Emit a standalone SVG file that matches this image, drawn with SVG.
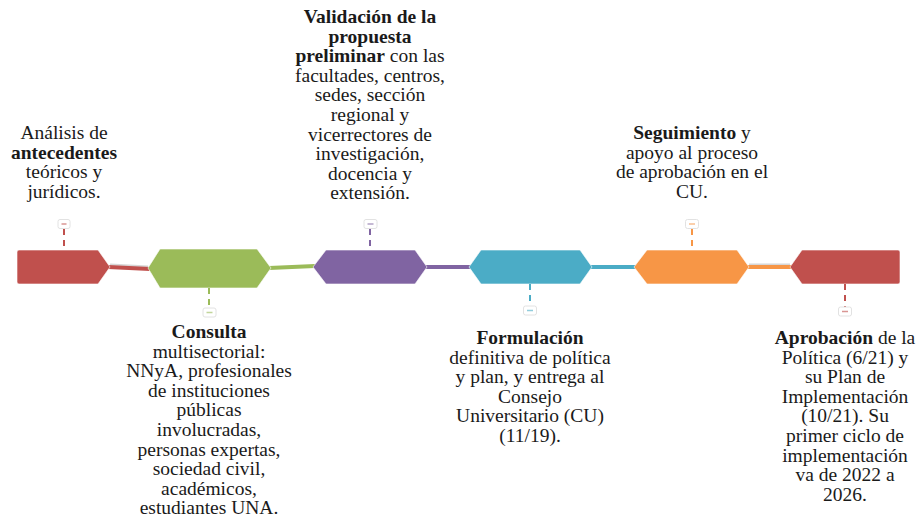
<svg xmlns="http://www.w3.org/2000/svg" width="924" height="519" viewBox="0 0 924 519">
<style>
  text { font-family: "Liberation Serif", "Times New Roman", serif; font-size: 19.5px; fill: #1a1a1a; text-anchor: middle; }
  .b { font-weight: bold; }
  .shape { stroke: #ffffff; stroke-opacity: 0.6; stroke-width: 1; }
  .conn { fill: none; stroke-width: 4; stroke-linecap: butt; }
  .shadow { fill: none; stroke: #bdbdbd; stroke-width: 4; opacity: 0.6; }
  .stem { fill: none; stroke-width: 2; stroke-dasharray: 6 5; }
  .mk { fill: #ffffff; stroke: #e2e2e2; stroke-width: 1; }
  .mkl { stroke-width: 1.5; opacity: 0.6; }
</style>
<rect width="924" height="519" fill="#ffffff"/>
<g id="connectors">
  <line class="shadow" x1="110" y1="265.5" x2="148" y2="267.5"/>
  <line class="conn" stroke="#C0504D" x1="108" y1="267" x2="150" y2="269"/>
  <line class="conn" stroke="#9BBB59" x1="269" y1="268" x2="315" y2="266"/>
  <line class="conn" stroke="#8064A2" x1="425" y1="267" x2="471" y2="267"/>
  <line class="conn" stroke="#4BACC6" x1="590" y1="267" x2="636" y2="267"/>
  <line class="shadow" x1="749" y1="265.5" x2="790" y2="265.5"/>
  <line class="conn" stroke="#F79646" x1="747" y1="267" x2="792" y2="267"/>
</g>
<g id="node1">
  <path class="shape" fill="#C0504D" d="M19,250 H98 L110,267 L98,284 H19 Q17,284 17,282 V252 Q17,250 19,250 Z"/>
  <line class="stem" stroke="#C0504D" x1="64" y1="229" x2="64" y2="250"/>
  <rect class="mk" x="58" y="219.5" width="12" height="9" rx="2"/>
  <line class="mkl" stroke="#C0504D" x1="61.5" y1="224" x2="66.5" y2="224"/>
  <text><tspan x="64" y="139">Análisis de</tspan><tspan x="64" y="158.6" class="b">antecedentes</tspan><tspan x="64" y="178.2">teóricos y</tspan><tspan x="64" y="197.8">jurídicos.</tspan></text>
</g>
<g id="node2">
  <path class="shape" fill="#9BBB59" d="M160,249 H257 L271,268 L257,288 H160 L148,268 Z"/>
  <line class="stem" stroke="#9BBB59" x1="209" y1="288" x2="209" y2="308"/>
  <rect class="mk" x="203" y="308" width="13" height="9" rx="2"/>
  <line class="mkl" stroke="#9BBB59" x1="206.5" y1="312.5" x2="212.5" y2="312.5"/>
  <text><tspan x="209" y="338" class="b">Consulta</tspan><tspan x="209" y="357.6">multisectorial:</tspan><tspan x="209" y="377.2">NNyA, profesionales</tspan><tspan x="209" y="396.8">de instituciones</tspan><tspan x="209" y="416.4">públicas</tspan><tspan x="209" y="436">involucradas,</tspan><tspan x="209" y="455.6">personas expertas,</tspan><tspan x="209" y="475.2">sociedad civil,</tspan><tspan x="209" y="494.8">académicos,</tspan><tspan x="209" y="514.4">estudiantes UNA.</tspan></text>
</g>
<g id="node3">
  <path class="shape" fill="#8064A2" d="M326,250 H415 L427,267 L415,284 H326 L313,267 Z"/>
  <line class="stem" stroke="#8064A2" x1="370" y1="229" x2="370" y2="250"/>
  <rect class="mk" x="364" y="219.5" width="13" height="9" rx="2"/>
  <line class="mkl" stroke="#8064A2" x1="367.5" y1="224" x2="373.5" y2="224"/>
  <text><tspan x="370" y="23" class="b">Validación de la</tspan><tspan x="370" y="42.6" class="b">propuesta</tspan><tspan x="370" y="62.2"><tspan class="b">preliminar</tspan> con las</tspan><tspan x="370" y="81.8">facultades, centros,</tspan><tspan x="370" y="101.4">sedes, sección</tspan><tspan x="370" y="121">regional y</tspan><tspan x="370" y="140.6">vicerrectores de</tspan><tspan x="370" y="160.2">investigación,</tspan><tspan x="370" y="179.8">docencia y</tspan><tspan x="370" y="199.4">extensión.</tspan></text>
</g>
<g id="node4">
  <path class="shape" fill="#4BACC6" d="M481,250 H580 L592,267 L580,284 H481 L469,267 Z"/>
  <line class="stem" stroke="#4BACC6" x1="530" y1="284" x2="530" y2="306"/>
  <rect class="mk" x="523.5" y="306" width="13" height="9" rx="2"/>
  <line class="mkl" stroke="#4BACC6" x1="527" y1="310.5" x2="533" y2="310.5"/>
  <text><tspan x="530" y="344" class="b">Formulación</tspan><tspan x="530" y="363.6">definitiva de política</tspan><tspan x="530" y="383.2">y plan, y entrega al</tspan><tspan x="530" y="402.8">Consejo</tspan><tspan x="530" y="422.4">Universitario (CU)</tspan><tspan x="530" y="442">(11/19).</tspan></text>
</g>
<g id="node5">
  <path class="shape" fill="#F79646" d="M647,250 H737 L749,267 L737,284 H647 L634,267 Z"/>
  <line class="stem" stroke="#F79646" x1="692" y1="229" x2="692" y2="250"/>
  <rect class="mk" x="685.5" y="219.5" width="13" height="9" rx="2"/>
  <line class="mkl" stroke="#F79646" x1="689" y1="224" x2="695" y2="224"/>
  <text><tspan x="692" y="139"><tspan class="b">Seguimiento</tspan> y</tspan><tspan x="692" y="158.6">apoyo al proceso</tspan><tspan x="692" y="178.2">de aprobación en el</tspan><tspan x="692" y="197.8">CU.</tspan></text>
</g>
<g id="node6">
  <path class="shape" fill="#C0504D" d="M802,250 H898 Q900,250 900,252 V282 Q900,284 898,284 H802 L790,267 Z"/>
  <line class="stem" stroke="#C0504D" x1="845" y1="284" x2="845" y2="307"/>
  <rect class="mk" x="838.5" y="307" width="13" height="9" rx="2"/>
  <line class="mkl" stroke="#C0504D" x1="842" y1="311.5" x2="848" y2="311.5"/>
  <text><tspan x="845" y="344"><tspan class="b">Aprobación</tspan> de la</tspan><tspan x="845" y="363.6">Política (6/21) y</tspan><tspan x="845" y="383.2">su Plan de</tspan><tspan x="845" y="402.8">Implementación</tspan><tspan x="845" y="422.4">(10/21). Su</tspan><tspan x="845" y="442">primer ciclo de</tspan><tspan x="845" y="461.6">implementación</tspan><tspan x="845" y="481.2">va de 2022 a</tspan><tspan x="845" y="500.8">2026.</tspan></text>
</g>
</svg>
